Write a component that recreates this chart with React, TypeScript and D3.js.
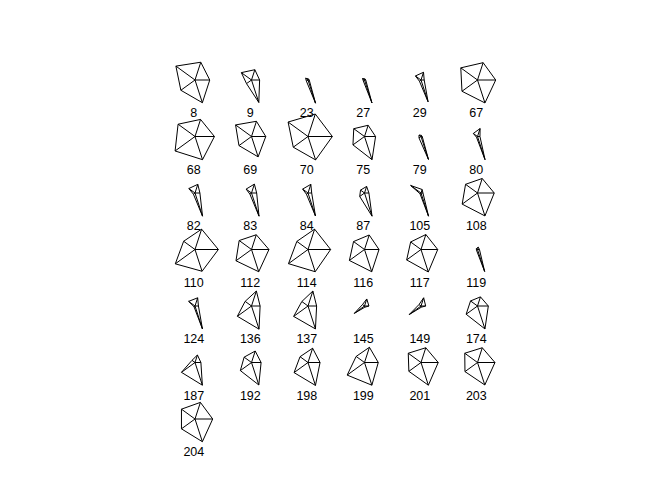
import React from 'react';
import * as d3 from 'd3';

// star ids (row labels), in drawing order
const ids = [8, 9, 23, 27, 29, 67, 68, 69, 70, 75, 79, 80, 82, 83, 84, 87, 105, 108, 110, 112, 114, 116, 117, 119, 124, 136, 137, 145, 149, 174, 187, 192, 198, 199, 201, 203, 204];

// scaled values (0..1), one array per variable / ray
const v1 = [0.6, 0.33, 0.05, 0.05, 0.13, 0.74, 0.79, 0.58, 0.99, 0.45, 0.05, 0.1, 0.2, 0.21, 0.15, 0.18, 0.08, 0.68, 0.95, 0.71, 0.92, 0.59, 0.68, 0.08, 0.14, 0.35, 0.35, 0.18, 0.19, 0.44, 0.24, 0.39, 0.49, 0.56, 0.7, 0.71, 0.72];
const v2 = [0.76, 0.44, 0.05, 0.05, 0.33, 0.74, 0.73, 0.65, 0.96, 0.48, 0.05, 0.34, 0.37, 0.38, 0.37, 0.28, 0.15, 0.62, 0.87, 0.63, 0.87, 0.62, 0.64, 0.1, 0.35, 0.64, 0.64, 0.3, 0.35, 0.39, 0.32, 0.49, 0.61, 0.65, 0.63, 0.63, 0.71];
const v3 = [0.96, 0.51, 0.12, 0.1, 0.28, 0.84, 0.85, 0.8, 1.0, 0.54, 0.1, 0.21, 0.31, 0.27, 0.27, 0.2, 0.52, 0.6, 0.57, 0.62, 0.56, 0.55, 0.52, 0.06, 0.32, 0.32, 0.31, 0.1, 0.1, 0.35, 0.15, 0.37, 0.4, 0.42, 0.64, 0.64, 0.68];
const v4 = [0.71, 0.25, 0.08, 0.06, 0.08, 0.78, 1.0, 0.63, 0.74, 0.58, 0.1, 0.05, 0.08, 0.08, 0.08, 0.24, 0.05, 0.77, 0.99, 0.78, 0.98, 0.76, 0.72, 0.05, 0.05, 0.71, 0.72, 0.51, 0.59, 0.57, 0.68, 0.56, 0.7, 0.87, 0.61, 0.63, 0.68];
const v5 = [0.97, 0.96, 0.99, 0.98, 0.93, 0.98, 0.99, 0.87, 1.0, 0.99, 0.98, 0.99, 0.99, 0.99, 0.98, 0.99, 0.99, 0.98, 0.93, 0.95, 0.95, 0.95, 0.96, 0.94, 0.98, 0.99, 0.98, 0.05, 0.05, 0.98, 0.97, 0.96, 0.98, 0.97, 0.97, 0.96, 0.97];

const vars = [v1, v2, v3, v4, v5];
const nCol = 6;
const nRow = 7;

export default function App() {
  const width = 672;
  const height = 480;

  const x = d3.scaleLinear().domain([0, nCol - 1]).range([195, 477.5]);
  const y = d3.scaleLinear().domain([0, nRow - 1]).range([80, 419]);
  const r = d3.scaleLinear().domain([0, 1]).range([0, 24.6]);

  // math angle (ccw from east) -> d3 radial angle (cw from north)
  const ang = (k: number) => Math.PI / 2 - (2 * Math.PI * k) / vars.length;

  const star = d3
    .lineRadial<number>()
    .angle((_, k) => ang(k))
    .radius((d) => r(d))
    .curve(d3.curveLinearClosed);

  return (
    <svg width={width} height={height} style={{ position: 'absolute', left: 0, top: 0, background: '#fff' }}>
      {ids.map((id, i) => {
        const cx = x(i % nCol);
        const cy = y(Math.floor(i / nCol));
        const vals = vars.map((v) => v[i]);
        return (
          <g key={id} transform={`translate(${cx},${cy})`}>
            <path d={star(vals) || ''} fill="none" stroke="#000" strokeWidth={1} />
            {vals.map((d, k) => {
              const a = ang(k);
              return (
                <line key={k} x1={0} y1={0} x2={r(d) * Math.sin(a)} y2={-r(d) * Math.cos(a)} stroke="#000" strokeWidth={1} />
              );
            })}
            <text x={-1.2} y={37} textAnchor="middle" fontFamily="Liberation Sans, Arial, sans-serif" fontSize={12.5} fill="#000">
              {id}
            </text>
          </g>
        );
      })}
    </svg>
  );
}
